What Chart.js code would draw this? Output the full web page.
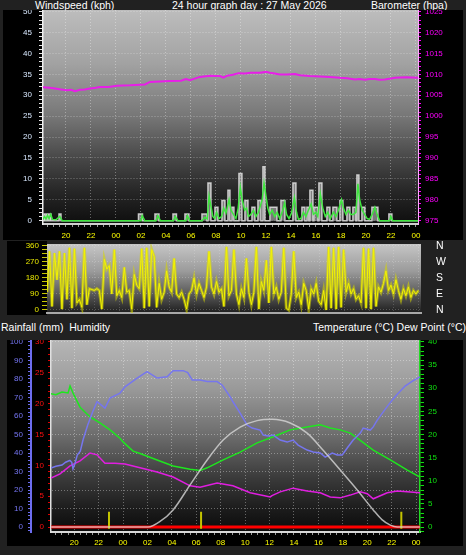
<!DOCTYPE html>
<html><head><meta charset="utf-8">
<script src="https://cdn.jsdelivr.net/npm/chart.js@4/dist/chart.umd.min.js"></script>
<style>
html,body{margin:0;padding:0;}
body{background:#212121;width:466px;height:555px;overflow:hidden;position:relative;font-family:"Liberation Sans",Arial,sans-serif;}
.t{position:absolute;color:#fff;font-size:10.5px;white-space:pre;line-height:1;}
canvas{position:absolute;}
</style></head><body>
<div class="t" style="left:35px;top:0px">Windspeed (kph)</div>
<div class="t" style="left:172px;top:0px">24 hour graph day : 27 May 2026</div>
<div class="t" style="left:371px;top:0px">Barometer (hpa)</div>
<div class="t" style="left:1px;top:322px">Rainfall (mm)  Humidity</div>
<div class="t" style="left:313px;top:322px">Temperature (°C) Dew Point (°C)</div>
<canvas id="c1" width="460" height="230" style="left:3px;top:10px"></canvas>
<canvas id="c2" width="456" height="74" style="left:7px;top:241px"></canvas>
<canvas id="c3" width="456" height="206" style="left:7px;top:340px"></canvas>
<script>
// ---------------- DATA ----------------
// hours relative to midnight of 27 May (negative = previous evening)
const gustHours = [-5.84, -5.76,-5.68, -5.6,-5.52, -5.44,-5.36, -5.28,-5.2, -4.56,-4.4,
  1.8,2.12, 3.12,3.44, 4.56,4.84, 5.52,5.84, 6.88,7.28,
  7.36,7.6, 7.92,8.16, 8.48,8.72, 8.96,9.12, 9.28,9.44, 9.84,10.08, 10.32,10.56, 10.88,11.12, 11.36,11.6, 11.76,11.92,
  12.32,12.88, 13.2,13.52, 14.16,14.4, 14.88,15.12, 15.28,15.44, 15.52,15.76, 15.84,16.16, 16.24,16.48,
  16.88,17.12, 17.36,17.68, 17.92,18.16, 18.48,18.72, 18.96,19.2, 19.28,19.44, 19.68,19.92, 20.48,20.96, 21.84,22.08, 24.17];
const gustKph = [0, 1.6,0, 1.6,0, 1.6,0, 1.6,0, 1.6,0,
  1.6,0, 1.6,0, 1.6,0, 1.6,0, 1.6,0,
  9.0,0, 3.2,0, 4.8,0, 7.3,0, 3.2,0, 11.3,0, 4.8,0, 3.2,0, 4.8,0, 12.9,0,
  3.2,0, 4.8,0, 9.0,0, 3.2,0, 3.2,0, 7.3,0, 3.2,0, 9.0,0,
  3.2,0, 3.2,0, 4.8,0, 3.2,0, 3.2,0, 10.9,0, 3.2,0, 3.2,0, 1.6,0, 0];

const speedHours = [-5.84,-5.72,-5.6,-5.48,-5.36,-5.22,-5.08,-4.8,-4.5,-4.3,2.0,2.1,2.3,3.2,3.35,3.55,4.6,4.75,4.95,5.6,5.72,5.9,
  6.9,7.1,7.3,7.45,7.6,7.75,7.9,8.05,8.25,8.45,8.62,8.8,9.05,9.2,9.4,9.6,9.78,9.95,10.1,10.3,10.45,10.6,10.8,11.0,11.2,11.4,11.55,11.7,11.85,
  12.0,12.15,12.3,12.5,12.7,12.9,13.1,13.35,13.5,13.65,13.85,14.05,14.28,14.45,14.6,14.8,15.0,15.2,15.4,15.62,15.8,16.0,16.15,16.35,16.55,
  16.75,16.95,17.15,17.4,17.6,17.8,18.05,18.2,18.4,18.6,18.8,19.0,19.2,19.36,19.5,19.7,19.9,20.1,20.3,20.5,20.72,20.9,21.1,21.9,22.0,22.15,24.17];
const speedKph = [0.3,1.0,0.4,1.3,0.5,1.5,0.3,0.2,1.0,0,0,1.2,0,0,1.2,0,0,1.0,0,0,1.2,0,
  0,0.8,0.4,5.9,3.5,1.0,0.5,2.0,0.5,1.0,3.0,1.8,5.0,2.5,1.5,0.5,3.0,8.0,5.0,2.5,3.0,1.0,1.5,2.5,1.0,2.0,3.5,5.0,9.0,
  6.0,3.0,1.5,2.5,1.0,2.0,0.5,2.5,4.3,1.5,0.5,1.8,5.5,2.0,0.3,0.5,2.0,1.0,2.5,4.0,1.5,2.0,1.0,6.4,3.0,
  1.0,2.0,0.5,2.0,1.0,2.5,5.0,3.0,1.5,2.5,1.5,1.5,2.0,8.8,5.0,2.5,1.5,0.5,0.3,1.5,3.2,1.5,0,0,1.0,0,0];

const baroHours = [-5.84,-5.3,-4.88,-4.4,-3.92,-3.6,-3.28,-2.88,-2.5,-2.08,-1.6,-1.28,-0.6,0.08,1.12,2.32,2.72,3.5,4.32,5.2,5.6,5.92,
  6.3,6.72,7.52,7.9,8.32,8.6,8.9,9.36,9.8,10.32,10.8,11.52,12.0,12.32,12.7,13.12,13.7,14.32,14.72,15.5,16.32,17.1,17.92,18.5,
  19.12,19.5,19.92,20.3,20.72,21.1,21.52,22.0,22.32,23.2,24.17];
const baroHpa = [1006.9,1006.8,1006.6,1006.4,1006.2,1006.3,1006.0,1006.3,1006.4,1006.6,1006.8,1007.0,1007.0,1007.3,1007.4,1007.6,1008.2,1008.3,1008.4,1008.5,1008.9,1008.6,
  1009.0,1009.4,1009.7,1009.6,1009.6,1009.2,1009.7,1009.9,1010.3,1010.2,1010.4,1010.4,1010.6,1010.4,1010.2,1010.0,1010.0,1010.1,1009.8,1009.6,1009.5,1009.4,1009.2,1009.1,
  1008.8,1008.9,1008.7,1008.9,1008.9,1008.7,1008.8,1009.0,1009.2,1009.3,1009.2];

// wind direction sampled every 0.2 h from dirStart
const dirStart = -5.84, dirStep = 0.2;
const dirDeg = [100,330,20,320,170,330,5,320,60,350, 10,345,40,60,15,350,30,120,115,110,
  120,110,5,285,230,250,90,340,80,110, 70,240,100,110,5,200,140,120,345,10,
  350,20,340,300,15,150,60,100,220,130, 100,290,90,70,100,60,5,90,110,180,
  90,150,110,70,130,330,130,90,160,100, 120,20,355,80,110,340,90,30,120,70,
  290,100,30,100,355,5,160,110,280,40, 355,90,130,60,100,350,10,0,90,330,
  70,100,30,150,110,5,120,90,150,50, 30,110,0,355,10,350,5,355,15,340,
  100,150,90,120,60,80,40,350,10,345, 5,350,20,130,100,150,220,110,140,90,
  170,110,60,120,80,130,70,110,90,110];
const dirLabels = ['N','E','S','W','N'];

const humHours = [-5.9,-5.5,-5.0,-4.7,-4.35,-4.2,-4.1,-3.95,-3.75,-3.5,-3.28,-2.9,-2.5,-2.13,-1.8,-1.48,-1.07,-0.25,0.16,1.15,1.97,2.79,3.61,4.1,4.92,5.3,5.66,
  6.31,6.89,7.7,8.11,8.77,9.0,9.59,10.16,10.57,11.23,11.48,11.89,12.3,12.87,13.44,13.93,14.34,15.08,15.57,16.15,16.56,17.13,17.54,17.95,
  18.36,18.85,19.43,19.67,20.25,20.49,20.82,21.31,21.72,22.05,22.5,23.1,23.7,24.32];
const humPct = [31.9,32.8,33.5,35.0,36.0,35.0,31.5,34.0,38.9,41.0,47.0,55.0,62.0,67.7,66.0,64.3,69.7,72.4,75.8,80.5,84.0,80.5,81.2,84.5,84.5,83.5,79.5,
  79.5,78.6,78.6,76.8,70.4,67.7,61.6,55.1,53.5,52.4,49.7,49.2,49.7,47.0,45.9,47.0,44.3,41.6,40.5,40.0,37.8,40.0,38.9,38.9,
  42.7,47.0,50.8,53.5,52.4,54.1,57.8,62.2,65.9,68.6,72.0,76.2,78.9,81.1];

const tempHours = [-5.9,-5.5,-5.0,-4.5,-4.34,-4.1,-3.52,-2.7,-1.89,-1.07,-0.25,0.0,0.82,1.39,2.79,4.1,5.49,6.31,6.89,8.2,9.59,10.98,12.3,13.69,15.08,16.15,16.97,17.79,18.61,19.18,20.49,21.89,23.28,24.32];
const tempC = [28.8,28.6,29.2,29.0,30.5,29.0,25.9,23.8,22.5,21.0,19.2,18.4,16.4,15.9,14.5,13.2,12.5,12.2,12.8,14.5,16.2,18.2,19.5,21.0,21.6,22.1,21.4,21.0,20.3,19.2,16.6,14.5,12.3,10.8];

const dewHours = [-5.9,-5.16,-4.34,-3.52,-2.7,-2.13,-1.48,-0.66,0.16,1.39,2.79,4.1,5.49,6.31,7.7,9.0,10.41,12.05,12.2,12.87,13.93,15.08,16.15,16.97,17.79,18.61,19.43,20.0,20.49,21.64,22.46,23.28,24.32];
const dewC = [10.6,11.5,13.2,14.3,16.0,15.6,13.8,13.8,13.6,12.8,11.9,10.8,8.9,8.6,9.5,8.9,7.4,6.5,6.8,7.6,8.4,7.8,7.4,6.5,6.3,6.9,7.6,7.2,6.1,7.4,7.8,7.6,7.4];

const solarHours = [-5.9,2.05,3.03,4.1,5.49,6.89,8.2,9.59,10.98,12.21,13.69,15.08,16.39,17.79,19.18,20.49,21.2,21.89,22.46,24.32];
const solarVal = [0,0,1.2,3.7,9.1,14.5,18.8,21.6,23.0,23.3,22.5,20.3,16.6,12.3,8.0,3.7,1.6,0.4,0,0];

const rainHours = [-5.9, 24.32];
const rainMm = [0, 0];

const markerHours = [-1.15, 6.39, 22.79];
const markerTop = 3.3;

// ---------------- HELPERS ----------------
const FONT = '"Liberation Sans", Arial, sans-serif';
const GRID = 'rgba(255,255,255,0.34)';
function isMult(v, m){ const r = v / m; return Math.abs(r - Math.round(r)) < 1e-6; }
function hourLabel(v){ const h = ((Math.round(v) % 24) + 24) % 24; return String(h).padStart(2, '0'); }
function pts(xs, ys){ return xs.map((x, i) => ({x: x, y: ys[i]})); }

function axis(o){
  return {
    type: 'linear', position: o.pos, min: o.min, max: o.max, weight: o.weight || 0, display: true,
    afterFit(s){
      if (s.isHorizontal()) s.height = o.size; else s.width = o.size;
      s.paddingTop = 0; s.paddingBottom = 0; s.paddingLeft = 0; s.paddingRight = 0;
    },
    ticks: {
      display: o.labels !== false, stepSize: o.step, autoSkip: false, includeBounds: false,
      maxRotation: 0, minRotation: 0, color: o.color || '#fff', padding: o.pad || 0,
      font: {family: FONT, size: o.fontSize || 8},
      callback: (v) => (o.every && isMult(v, o.every)) ? o.fmt(v) : ''
    },
    grid: {
      drawOnChartArea: !!o.gridEvery, drawTicks: (o.tickLen || 0) > 0, tickLength: o.tickLen || 0,
      tickColor: o.tickColor || o.color || '#fff', tickWidth: 1, lineWidth: 1,
      color: (c) => (o.gridEvery && c.tick && isMult(c.tick.value, o.gridEvery)) ? (o.gridColor || GRID) : 'rgba(0,0,0,0)'
    },
    border: { display: !!o.borderColor, color: o.borderColor || 'rgba(0,0,0,0)', width: o.borderWidth || 1, dash: [1, 2] }
  };
}

const bgPlugin = {
  id: 'bg',
  beforeDraw(chart, args, opts){
    const {ctx, chartArea: a, width, height} = chart;
    ctx.save();
    if (opts.canvas){ ctx.fillStyle = opts.canvas; ctx.fillRect(0, 0, width, height); }
    if (opts.left){ ctx.fillStyle = opts.left; ctx.fillRect(0, 0, a.left, height); }
    const g = ctx.createLinearGradient(0, a.top, 0, a.bottom);
    opts.stops.forEach(s => g.addColorStop(s[0], s[1]));
    ctx.fillStyle = g;
    ctx.fillRect(a.left, a.top, a.right - a.left, a.bottom - a.top);
    ctx.restore();
  }
};

const common = {
  responsive: false, animation: false, events: [], devicePixelRatio: 1,
  layout: {padding: 0},
  elements: {point: {radius: 0}, line: {tension: 0}}
};

// ---------------- CHART 1 : wind + barometer ----------------
new Chart(document.getElementById('c1'), {
  type: 'line',
  data: { datasets: [
    {label: 'Barometer', data: pts(baroHours, baroHpa), yAxisID: 'yB', xAxisID: 'x',
     borderColor: '#e81ee8', borderWidth: 2, pointRadius: 0, order: 0},
    {label: 'Wind speed', data: pts(speedHours, speedKph), yAxisID: 'y', xAxisID: 'x',
     borderColor: '#3fe63f', borderWidth: 1.5, pointRadius: 0, order: 1},
    {label: 'Gust', data: pts(gustHours, gustKph), yAxisID: 'y', xAxisID: 'x', stepped: true,
     borderColor: 'rgba(225,225,225,0.85)', backgroundColor: 'rgba(205,205,205,0.55)', fill: 'origin',
     borderWidth: 1.5, pointRadius: 0, order: 2}
  ]},
  options: Object.assign({}, common, {
    plugins: {legend: {display: false}, tooltip: {enabled: false},
      bg: {canvas: '#000', stops: [[0,'#bdbdbd'],[0.25,'#a2a2a2'],[0.5,'#767676'],[0.7,'#464646'],[0.85,'#262626'],[1,'#0e0e0e']]}},
    scales: {
      x: axis({pos: 'bottom', min: -5.84, max: 24.17, step: 0.5, every: 2, fmt: hourLabel, color: '#ffff00',
               tickColor: '#9a9a9a', tickLen: 3, pad: 4, size: 16, gridEvery: 2, borderColor: '#d0d0d0', borderWidth: 2}),
      y: axis({pos: 'left', min: -0.8, max: 50.41, step: 1, every: 5, fmt: v => String(v), color: '#d8e8ff',
               tickColor: '#e6e6e6', tickLen: 4, pad: 7, size: 40, gridEvery: 5, borderColor: '#f0f0f0', borderWidth: 1.5}),
      yB: axis({pos: 'right', min: 974.2, max: 1025.41, step: 1, every: 5, fmt: v => String(v), color: '#ff00ff',
               tickColor: '#ff00ff', tickLen: 3, pad: 4, size: 45, borderColor: '#ffa8ff', borderWidth: 1})
    }
  }),
  plugins: [bgPlugin]
});

// ---------------- CHART 2 : wind direction ----------------
const dirPts = dirDeg.map((d, i) => ({x: dirStart + i * dirStep, y: d}));
new Chart(document.getElementById('c2'), {
  type: 'line',
  data: { datasets: [
    {label: 'Direction', data: dirPts, yAxisID: 'y', xAxisID: 'x',
     borderColor: '#f4f400', borderWidth: 1, pointRadius: 0, order: 0},
    {label: 'Direction band', data: dirPts, yAxisID: 'y', xAxisID: 'x',
     borderColor: 'rgba(215,215,0,0.55)', borderWidth: 3, pointRadius: 0, order: 1}
  ]},
  options: Object.assign({}, common, {
    layout: {padding: {top: 3, bottom: 0, left: 0, right: 0}},
    plugins: {legend: {display: false}, tooltip: {enabled: false},
      bg: {left: '#000', stops: [[0,'#c6c6c6'],[0.4,'#9a9a9a'],[0.7,'#5e5e5e'],[1,'#1e1e1e']]}},
    scales: {
      x: axis({pos: 'bottom', min: -5.84, max: 24.17, step: 2, labels: false, tickLen: 0, size: 2,
               gridEvery: 2, gridColor: 'rgba(255,255,255,0.18)', borderColor: '#a8a8a8', borderWidth: 2}),
      y: axis({pos: 'left', min: -16.9, max: 371.25, step: 22.5, every: 90, fmt: v => String(v), color: '#e8e800',
               tickColor: '#c8c800', tickLen: 5, pad: 3, size: 40, gridEvery: 90, gridColor: 'rgba(255,255,255,0.22)'}),
      yC: axis({pos: 'right', min: -16.9, max: 371.25, step: 90, every: 90, fmt: v => dirLabels[Math.round(v / 90)],
               color: '#ffffff', fontSize: 10.5, tickLen: 0, pad: 15, size: 42})
    }
  }),
  plugins: [bgPlugin]
});

// ---------------- CHART 3 : rain, humidity, temperature, dew point ----------------
const markerPts = [];
markerHours.forEach(h => { markerPts.push({x: h, y: -0.4}, {x: h, y: markerTop}, {x: h, y: null}); });
new Chart(document.getElementById('c3'), {
  type: 'line',
  data: { datasets: [
    {label: 'Solar', data: pts(solarHours, solarVal), yAxisID: 'yT', xAxisID: 'x',
     borderColor: 'rgba(215,215,215,0.8)', borderWidth: 1.5, pointRadius: 0, cubicInterpolationMode: 'monotone', order: 0},
    {label: 'Marker', data: markerPts, yAxisID: 'yT', xAxisID: 'x', spanGaps: false,
     borderColor: '#c4c400', borderWidth: 2, pointRadius: 0, order: 1},
    {label: 'Humidity', data: pts(humHours, humPct), yAxisID: 'yH', xAxisID: 'x',
     borderColor: '#7676ee', borderWidth: 1.5, pointRadius: 0, order: 2},
    {label: 'Temperature', data: pts(tempHours, tempC), yAxisID: 'yT', xAxisID: 'x',
     borderColor: '#1ee61e', borderWidth: 1.5, pointRadius: 0, order: 3},
    {label: 'Dew point', data: pts(dewHours, dewC), yAxisID: 'yT', xAxisID: 'x',
     borderColor: '#e01ee0', borderWidth: 1.5, pointRadius: 0, order: 4},
    {label: 'Rainfall', data: pts(rainHours, rainMm), yAxisID: 'yR', xAxisID: 'x',
     borderColor: '#ff0000', borderWidth: 3, pointRadius: 0, order: 5}
  ]},
  options: Object.assign({}, common, {
    plugins: {legend: {display: false}, tooltip: {enabled: false},
      bg: {canvas: '#000', stops: [[0,'#b6b6b6'],[0.25,'#9a9a9a'],[0.5,'#6c6c6c'],[0.72,'#3a3a3a'],[0.88,'#1c1c1c'],[1,'#0a0a0a']]}},
    scales: {
      x: axis({pos: 'bottom', min: -5.9, max: 24.32, step: 0.5, every: 2, fmt: hourLabel, color: '#ffff00',
               tickColor: '#9a9a9a', tickLen: 3, pad: 3, size: 14, gridEvery: 2, borderColor: '#d8d8d8', borderWidth: 2}),
      yH: axis({pos: 'left', weight: 1, min: -2.7, max: 101.08, step: 2, every: 10, fmt: v => String(v), color: '#7676f4',
               tickColor: '#6d6df0', tickLen: 3, pad: 5, size: 24, gridEvery: 10, borderColor: '#6d6df0', borderWidth: 2}),
      yR: axis({pos: 'left', weight: 0, min: -0.81, max: 30.32, step: 1, every: 5, fmt: v => String(v), color: '#ff1010',
               tickColor: '#e00000', tickLen: 3, pad: 4, size: 20, borderColor: '#e0e0e0', borderWidth: 1.5}),
      yT: axis({pos: 'right', min: -1.08, max: 40.43, step: 1, every: 5, fmt: v => String(v), color: '#10e010',
               tickColor: '#10e010', tickLen: 4, pad: 4, size: 43, borderColor: '#22dd22', borderWidth: 1.5})
    }
  }),
  plugins: [bgPlugin]
});
</script>
</body></html>
